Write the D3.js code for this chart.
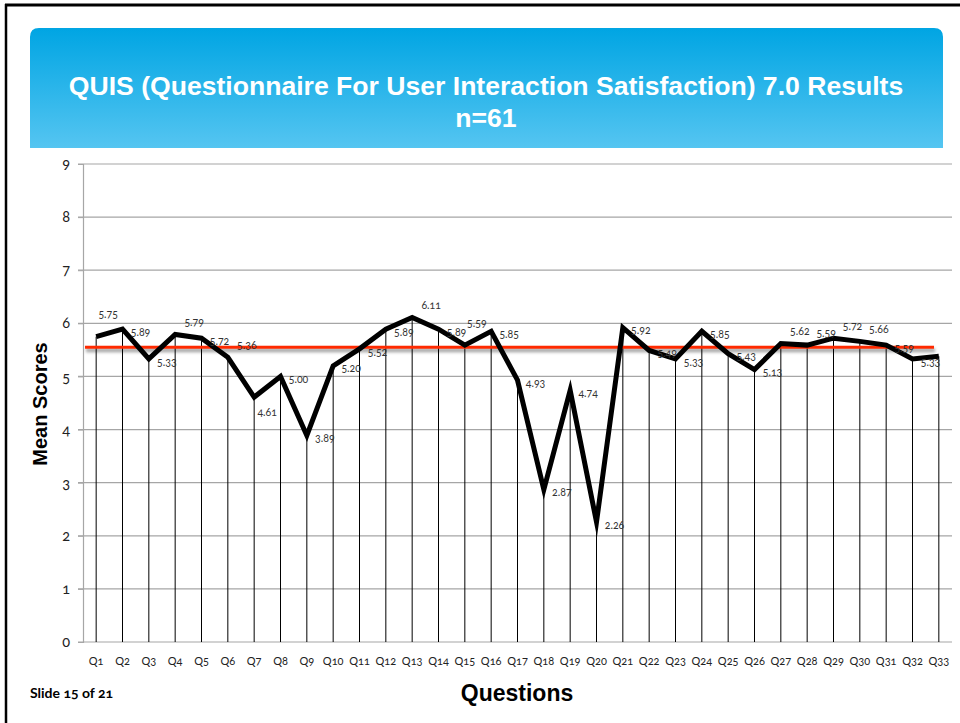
<!DOCTYPE html>
<html>
<head>
<meta charset="utf-8">
<script src="https://cdn.jsdelivr.net/npm/d3@7"></script>
<style>
  html, body { margin: 0; padding: 0; background: #fff; }
  svg { display: block; }
</style>
</head>
<body>
<svg id="chart" width="960" height="723"></svg>
<script>
// ---- Data ----
const questions = ["Q1","Q2","Q3","Q4","Q5","Q6","Q7","Q8","Q9","Q10","Q11","Q12","Q13","Q14","Q15","Q16","Q17",
  "Q18","Q19","Q20","Q21","Q22","Q23","Q24","Q25","Q26","Q27","Q28","Q29","Q30","Q31","Q32","Q33"];
const meanScores = [5.75,5.89,5.33,5.79,5.72,5.36,4.61,5.00,3.89,5.20,5.52,5.89,6.11,5.89,5.59,5.85,4.93,
  2.87,4.74,2.26,5.92,5.49,5.33,5.85,5.43,5.13,5.62,5.59,5.72,5.66,5.59,5.33,5.38];
// label placement code per point: R right, U up-right, T top, D down-right, N none
const labelPlacement = ["T","R","R","U","R","U","D","R","R","R","R","R","U","R","T","R","R",
  "R","R","R","R","R","R","R","R","R","U","U","U","U","R","R","N"];
const yTicks = [0,1,2,3,4,5,6,7,8,9];
const referenceLevel = 5.55;
const titleLine1 = "QUIS (Questionnaire For User Interaction Satisfaction) 7.0 Results";
const titleLine2 = "n=61";
const yTitle = "Mean Scores";
const xTitle = "Questions";
const footer = "Slide 15 of 21";

// ---- Drawing ----
const svg = d3.select("#chart");
const defs = svg.append("defs");
const grad = defs.append("linearGradient").attr("id","titleGrad").attr("x1",0).attr("y1",0).attr("x2",0).attr("y2",1);
grad.append("stop").attr("offset","0%").attr("stop-color","#00a5e3");
grad.append("stop").attr("offset","100%").attr("stop-color","#55c5f1");
const blur = defs.append("filter").attr("id","blur").attr("filterUnits","userSpaceOnUse")
  .attr("x",0).attr("y",0).attr("width",960).attr("height",723);
blur.append("feGaussianBlur").attr("stdDeviation",1.8);

// slide border (top and left)
svg.append("line").attr("x1",5).attr("x2",960).attr("y1",5).attr("y2",5).attr("stroke","#000").attr("stroke-width",3);
svg.append("line").attr("x1",6).attr("x2",6).attr("y1",4).attr("y2",723).attr("stroke","#000").attr("stroke-width",2.5);

// title box with rounded top corners
const bx0 = 30, bx1 = 943, by0 = 28, by1 = 148, r = 9;
svg.append("path")
  .attr("d", `M${bx0},${by1} L${bx0},${by0+r} Q${bx0},${by0} ${bx0+r},${by0} L${bx1-r},${by0} Q${bx1},${by0} ${bx1},${by0+r} L${bx1},${by1} Z`)
  .attr("fill","url(#titleGrad)");
const t1 = svg.append("text").attr("x",486).attr("y",95).attr("text-anchor","middle")
  .attr("font-family","Liberation Sans, Arial, sans-serif").attr("font-weight","bold")
  .attr("font-size",24).attr("fill","#fff").text(titleLine1);
const w = t1.node().getComputedTextLength();
const fs = 24 * 835 / w;
t1.attr("font-size", fs);
svg.append("text").attr("x",486).attr("y",127).attr("text-anchor","middle")
  .attr("font-family","Liberation Sans, Arial, sans-serif").attr("font-weight","bold")
  .attr("font-size",fs).attr("fill","#fff").text(titleLine2);

// scales
const x = d3.scaleBand().domain(questions).range([83, 952]).paddingInner(0).paddingOuter(0);
const cx = q => x(q) + x.bandwidth() / 2;
const y = d3.scaleLinear().domain([0, 9]).range([642, 164]);

const numFont = "Lato, 'Open Sans', sans-serif";

// grid lines
svg.append("g").selectAll("line").data(yTicks).join("line")
  .attr("x1", 78).attr("x2", 952)
  .attr("y1", d => y(d)).attr("y2", d => y(d))
  .attr("stroke", "#a6a6a6").attr("stroke-width", 1.2);

// y axis
const yAxis = svg.append("g").attr("transform","translate(83,0)")
  .call(d3.axisLeft(y).tickValues(yTicks).tickSize(5).tickPadding(8).tickFormat(d3.format("d")));
yAxis.select(".domain").attr("stroke","#a6a6a6").attr("stroke-width",1.2);
yAxis.selectAll(".tick line").attr("stroke","#a6a6a6");
yAxis.selectAll(".tick text").attr("font-family",numFont).attr("font-size",14.5).attr("fill","#222")
  .style("font-variant-numeric","oldstyle-nums");

// x axis labels
const xAxis = svg.append("g").attr("transform",`translate(0,${y(0)})`)
  .call(d3.axisBottom(x).tickSize(0).tickPadding(15));
xAxis.select(".domain").remove();
xAxis.selectAll(".tick text").attr("font-family",numFont).attr("font-size",11).attr("fill","#222")
  .style("font-variant-numeric","oldstyle-nums");

// drop lines
const pts = questions.map((q, i) => ({ q, v: meanScores[i], p: labelPlacement[i] }));
svg.append("g").selectAll("line").data(pts).join("line")
  .attr("x1", d => cx(d.q)).attr("x2", d => cx(d.q))
  .attr("y1", d => y(d.v)).attr("y2", y(0))
  .attr("stroke", "#000").attr("stroke-width", 1);

// reference line with soft shadow
svg.append("line")
  .attr("x1", 86).attr("x2", 935)
  .attr("y1", y(referenceLevel) + 3).attr("y2", y(referenceLevel) + 3)
  .attr("stroke", "#000").attr("stroke-opacity", 0.35).attr("stroke-width", 4)
  .attr("filter", "url(#blur)");
svg.append("line")
  .attr("x1", 85).attr("x2", 934)
  .attr("y1", y(referenceLevel)).attr("y2", y(referenceLevel))
  .attr("stroke", "#ff2a00").attr("stroke-width", 3);

// data line
svg.append("path").datum(pts)
  .attr("d", d3.line().x(d => cx(d.q)).y(d => y(d.v)))
  .attr("fill", "none").attr("stroke", "#000").attr("stroke-width", 5)
  .attr("stroke-linejoin", "miter").attr("stroke-miterlimit", 10);

// data labels
const offsets = { R: [18, 3], U: [19, -12], T: [12, -22], D: [13, 15] };
svg.append("g").selectAll("text").data(pts.filter(d => d.p !== "N")).join("text")
  .attr("x", d => cx(d.q) + offsets[d.p][0])
  .attr("y", d => y(d.v) + offsets[d.p][1])
  .attr("dy", "0.35em")
  .attr("text-anchor", "middle")
  .attr("font-family", numFont).attr("font-size", 10.5).attr("fill", "#333")
  .style("font-variant-numeric","oldstyle-nums")
  .text(d => d3.format(".2f")(d.v));

// axis titles
svg.append("text").attr("transform","translate(47,404) rotate(-90)").attr("text-anchor","middle")
  .attr("font-family","Liberation Sans, Arial, sans-serif").attr("font-weight","bold")
  .attr("font-size",20).attr("fill","#000").text(yTitle);
svg.append("text").attr("x",517).attr("y",701).attr("text-anchor","middle")
  .attr("font-family","Liberation Sans, Arial, sans-serif").attr("font-weight","bold")
  .attr("font-size",23).attr("fill","#000").text(xTitle);
svg.append("text").attr("x",30).attr("y",698)
  .attr("font-family",numFont).attr("font-weight","bold")
  .attr("font-size",14).attr("fill","#000")
  .style("font-variant-numeric","oldstyle-nums").text(footer);
</script>
</body>
</html>
